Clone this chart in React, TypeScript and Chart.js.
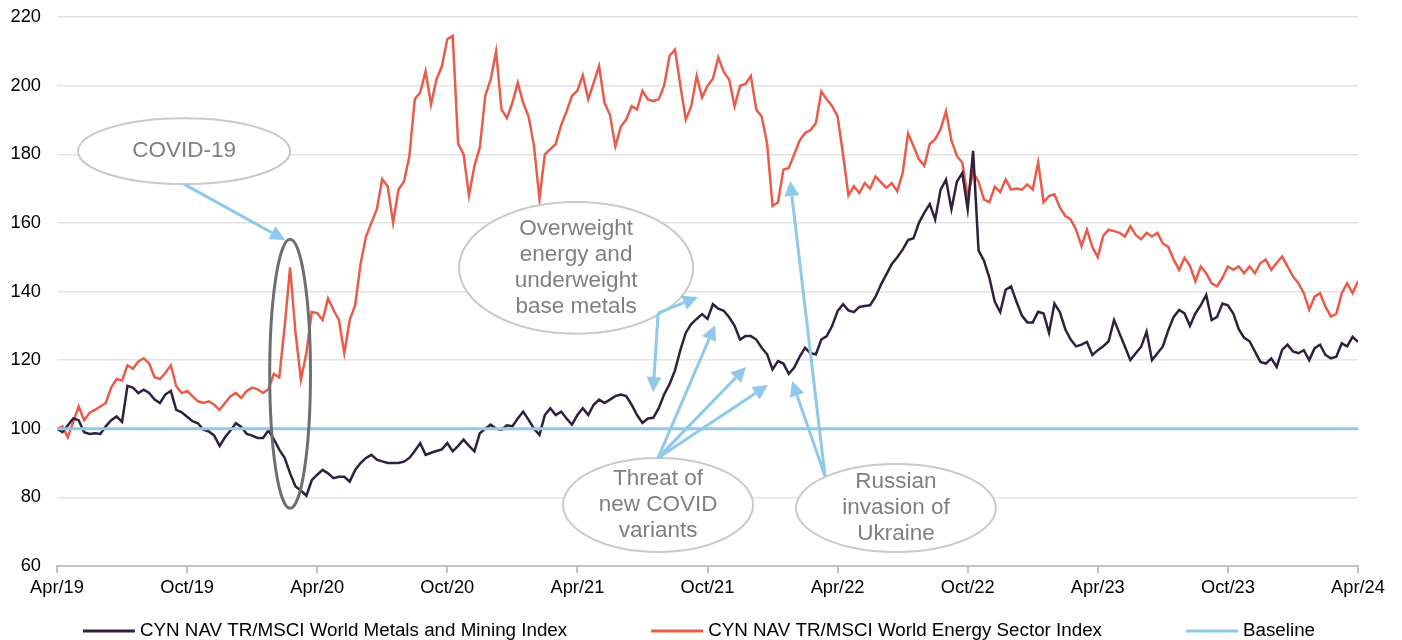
import React, { useEffect, useRef } from "react";
import { Chart, registerables } from "chart.js";

Chart.register(...registerables);

// Sampling step of the series, in months from Apr/19
const STEP_MONTHS = 0.25;

const TICK_LABELS = [
  "Apr/19", "Oct/19", "Apr/20", "Oct/20", "Apr/21", "Oct/21",
  "Apr/22", "Oct/22", "Apr/23", "Oct/23", "Apr/24",
];

const SERIES_NAMES = [
  "CYN NAV TR/MSCI World Metals and Mining Index",
  "CYN NAV TR/MSCI World Energy Sector Index",
  "Baseline",
];

const METALS = [
  100, 99, 101, 103, 102.5, 99, 98.5, 98.7,
  98.5, 100.7, 102.5, 103.6, 102, 112.5, 112, 110.4,
  111.4, 110.4, 108.5, 107.5, 110, 111, 105.5, 104.8,
  103.5, 102.2, 101.6, 99.7, 99.2, 98, 95, 97.5,
  99.5, 101.6, 100.5, 98.5, 98, 97.3, 97.3, 99.5,
  97, 93.9, 91.5, 87, 83.2, 82, 80.5, 85,
  86.6, 88, 87, 85.6, 86, 86, 84.6, 88,
  90, 91.5, 92.4, 91, 90.5, 90, 90, 90,
  90.4, 91.5, 93.5, 95.8, 92.4, 93, 93.5, 94,
  95.8, 93.4, 95, 96.8, 95, 93.4, 98.7, 100,
  101.2, 100, 99.7, 101, 100.7, 103, 105, 102.6,
  100, 98.2, 104, 106, 104, 105, 103, 101.2,
  104, 106, 104, 107, 108.5, 107.5, 108.5, 109.5,
  110, 109.5, 107, 104, 101.7, 103, 103.2, 106,
  110, 113, 117, 123, 128, 130.5, 132, 133.4,
  132, 136.3, 135, 134.4, 132.5, 130, 126, 127,
  127, 126, 123.6, 121.7, 117.3, 119.7, 119, 116,
  117.8, 121, 123.6, 122, 121.7, 126, 127, 130,
  134.3, 136.3, 134.5, 134, 135.5, 135.8, 136, 138.5,
  142, 145, 148, 150, 152.2, 155, 155.5, 160,
  163, 165.5, 161, 169.7, 172.6, 164, 172, 174.5,
  164, 181, 152, 149, 144, 137, 134, 140.5,
  141.5, 137, 133, 131, 131, 134.1, 133.6, 128,
  136.5, 134, 129, 126, 124, 124.5, 125.3, 121.5,
  122.9, 124, 125.5, 131.7, 127.8, 124, 120, 122,
  123.9, 128.3, 120, 122, 124, 128.7, 132.6, 134.6,
  133.6, 130, 133.6, 136, 139, 131.7, 132.6, 136.5,
  136, 133.6, 129, 126.5, 125.5, 122.5, 119.5, 119,
  120.5, 118, 123, 124.5, 122.5, 122, 122.9, 120,
  123.5, 124.5, 121.5, 120.5, 121, 124.9, 124, 126.8,
  125.3,
];

const ENERGY = [
  100, 100.7, 97.5, 102, 106.5, 102.5, 104.6, 105.5,
  106.5, 107.5, 112, 114.5, 114, 118.5, 117.5, 119.6,
  120.5, 119, 115, 114.5, 116.3, 118.5, 112.4, 110.4,
  111, 109.5, 108, 107.5, 108, 107, 105.5, 107.5,
  109.5, 110.4, 109, 111, 112, 111.5, 110.4, 111.5,
  116, 115, 129.8, 147, 128, 114.3, 122, 134,
  133.7, 131.7, 138, 134.6, 131.7, 122, 131.7, 136,
  148, 156, 160, 164, 172.7, 170.7, 160, 169.7,
  172, 179.4, 196, 198, 204.2, 194.5, 201.8, 205.7,
  213.5, 214.5, 183, 180, 168, 176.6, 182, 197,
  201.8, 210, 193, 190.5, 195, 200.8, 195, 191,
  182.3, 167, 180, 181.5, 183, 188.5, 192.5, 197,
  198.5, 203, 196, 200.8, 205.7, 195, 191.5, 182.3,
  188, 190.1, 194, 193, 198.5, 196, 195.5, 196,
  200, 208.7, 210.5, 200, 190.1, 194, 202.8, 196.5,
  199.9, 202, 208.2, 204, 201.8, 194, 199.9, 200.5,
  202.8, 193, 191, 183, 164.9, 166, 175.5, 176,
  180, 184, 186.2, 187, 189.1, 198.3, 196, 194,
  191, 180, 168, 170.7, 168.7, 171.6, 170, 173.5,
  171.8, 170.2, 171.6, 169.2, 174.6, 186, 182.4, 178.5,
  176.6, 183, 184.4, 187.3, 192.5, 184, 179.5, 177.6,
  167.8, 174.7, 172, 166.8, 166, 170.5, 169, 172.7,
  169.7, 170, 169.7, 171.2, 169.7, 177.6, 166, 167.8,
  168.3, 164.5, 162, 161, 158, 153.2, 158, 153,
  150, 156.2, 158, 157.6, 157.1, 156, 159, 156.5,
  155.2, 157.1, 156, 157.1, 154, 153, 149.3, 146.3,
  149.8, 147.5, 143, 147.3, 145.3, 142.4, 141.5, 144,
  147.3, 146.3, 147.3, 145.3, 147.3, 145.3, 148.3, 149.3,
  146.3, 148.3, 150.2, 147.3, 144.4, 142.4, 139.5, 134.7,
  138.5, 139.5, 135.6, 132.7, 133.5, 139.5, 142.4, 139.5,
  143,
];

const BASELINE = [100, 100];

// Annotations, in data units (months from Apr/19, index value)
const NOTE_ELLIPSES = [
  { m: 5.86, v: 180.9, rm: 4.89, rv: 9.6, lines: ["COVID-19"], filled: true },
  { m: 10.75, v: 116.0, rm: 0.94, rv: 39.2, lines: [], filled: false },
  { m: 23.94, v: 146.9, rm: 5.4, rv: 19.2, lines: ["Overweight", "energy and", "underweight", "base metals"], filled: true },
  { m: 27.72, v: 77.8, rm: 4.38, rv: 13.7, lines: ["Threat of", "new COVID", "variants"], filled: true },
  { m: 38.69, v: 76.9, rm: 4.61, rv: 12.8, lines: ["Russian", "invasion of", "Ukraine"], filled: true },
];

const NOTE_ARROWS = [
  { from: [5.86, 171.3], to: [10.52, 155.0] },
  { from: [27.72, 133.7], to: [29.56, 138.4] },
  { from: [27.72, 133.7], to: [27.49, 110.7] },
  { from: [27.72, 91.5], to: [30.35, 130.2] },
  { from: [27.72, 91.5], to: [31.78, 118.0] },
  { from: [27.72, 91.5], to: [32.79, 112.75] },
  { from: [35.42, 86.2], to: [33.9, 113.9] },
  { from: [35.42, 86.2], to: [33.81, 172.2] },
];

const COLORS = {
  metals: "#30203f",
  energy: "#e95c4b",
  baseline: "#8ec8ea",
  note: "#7f7f7f",
  noteBorder: "#c9c9c9",
  ring: "#6e6e6e",
  grid: "#e3e3e3",
  axis: "#c4c4c4",
};

const FONT = "'Liberation Sans', Arial, sans-serif";

const notesPlugin = {
  id: "notes",
  afterDatasetsDraw(chart: any) {
    const { ctx } = chart;
    const xs = chart.scales.x;
    const ys = chart.scales.y;
    const px = (m: number) => xs.getPixelForValue(m);
    const py = (v: number) => ys.getPixelForValue(v);
    ctx.save();
    for (const e of NOTE_ELLIPSES) {
      const cx = px(e.m);
      const cy = py(e.v);
      const rx = Math.abs(px(e.m + e.rm) - cx);
      const ry = Math.abs(py(e.v + e.rv) - cy);
      ctx.beginPath();
      ctx.ellipse(cx, cy, rx, ry, 0, 0, Math.PI * 2);
      if (e.filled) {
        ctx.fillStyle = "#ffffff";
        ctx.fill();
        ctx.lineWidth = 2;
        ctx.strokeStyle = COLORS.noteBorder;
      } else {
        ctx.lineWidth = 3;
        ctx.strokeStyle = COLORS.ring;
      }
      ctx.stroke();
      if (e.lines.length) {
        ctx.fillStyle = COLORS.note;
        ctx.font = `22.5px ${FONT}`;
        ctx.textAlign = "center";
        ctx.textBaseline = "middle";
        const lh = 26;
        const start = cy - ((e.lines.length - 1) * lh) / 2;
        e.lines.forEach((t, i) => ctx.fillText(t, cx, start + i * lh));
      }
    }
    ctx.strokeStyle = COLORS.baseline;
    ctx.fillStyle = COLORS.baseline;
    ctx.lineWidth = 3;
    for (const a of NOTE_ARROWS) {
      const x1 = px(a.from[0]);
      const y1 = py(a.from[1]);
      const x2 = px(a.to[0]);
      const y2 = py(a.to[1]);
      const ang = Math.atan2(y2 - y1, x2 - x1);
      const hl = 15;
      const hw = 7.5;
      const bx = x2 - hl * Math.cos(ang);
      const by = y2 - hl * Math.sin(ang);
      ctx.beginPath();
      ctx.moveTo(x1, y1);
      ctx.lineTo(bx, by);
      ctx.stroke();
      ctx.beginPath();
      ctx.moveTo(x2, y2);
      ctx.lineTo(bx + hw * Math.sin(ang), by - hw * Math.cos(ang));
      ctx.lineTo(bx - hw * Math.sin(ang), by + hw * Math.cos(ang));
      ctx.closePath();
      ctx.fill();
    }
    ctx.restore();
  },
  afterDraw(chart: any) {
    const { ctx } = chart;
    ctx.save();
    ctx.font = `18.8px ${FONT}`;
    ctx.textBaseline = "middle";
    ctx.textAlign = "left";
    const sample = 52;
    const gap = 5;
    const spacing = 84;
    const colors = [COLORS.metals, COLORS.energy, COLORS.baseline];
    const widths = SERIES_NAMES.map((n) => sample + gap + ctx.measureText(n).width);
    const total = widths.reduce((s, w) => s + w, 0) + spacing * (widths.length - 1);
    let x = chart.width / 2 - total / 2 - 2;
    const y = 631;
    SERIES_NAMES.forEach((n, i) => {
      ctx.strokeStyle = colors[i];
      ctx.lineWidth = 3;
      ctx.beginPath();
      ctx.moveTo(x, y);
      ctx.lineTo(x + sample, y);
      ctx.stroke();
      ctx.fillStyle = "#000000";
      ctx.fillText(n, x + sample + gap, y);
      x += widths[i] + spacing;
    });
    ctx.restore();
  },
};

export default function App() {
  const ref = useRef<HTMLCanvasElement | null>(null);

  useEffect(() => {
    document.body.style.margin = "0";
    const canvas = ref.current;
    if (!canvas) return;
    const toPoints = (arr: number[]) => arr.map((v, i) => ({ x: i * STEP_MONTHS, y: v }));
    const lastMonth = (METALS.length - 1) * STEP_MONTHS;
    const chart = new Chart(canvas, {
      type: "line",
      data: {
        datasets: [
          {
            label: SERIES_NAMES[2],
            data: [
              { x: 0, y: BASELINE[0] },
              { x: lastMonth, y: BASELINE[1] },
            ],
            borderColor: COLORS.baseline,
            borderWidth: 3,
            pointRadius: 0,
            order: 0,
          },
          {
            label: SERIES_NAMES[0],
            data: toPoints(METALS),
            borderColor: COLORS.metals,
            borderWidth: 2.5,
            pointRadius: 0,
            tension: 0,
            order: 1,
          },
          {
            label: SERIES_NAMES[1],
            data: toPoints(ENERGY),
            borderColor: COLORS.energy,
            borderWidth: 2.5,
            pointRadius: 0,
            tension: 0,
            order: 2,
          },
        ],
      },
      options: {
        responsive: false,
        animation: false,
        layout: { padding: { left: 0, right: 44, top: 17, bottom: 0 } },
        plugins: { legend: { display: false }, tooltip: { enabled: false } },
        scales: {
          x: {
            type: "linear",
            min: 0,
            max: lastMonth,
            afterFit: (s: any) => {
              s.height = 74;
              s.paddingLeft = 0;
              s.paddingRight = 0;
            },
            ticks: {
              stepSize: 6,
              autoSkip: false,
              maxRotation: 0,
              padding: 4,
              color: "#000000",
              font: { family: FONT, size: 18.3 },
              callback: (v: any) => TICK_LABELS[Math.round(Number(v) / 6)] ?? "",
            },
            grid: {
              drawOnChartArea: false,
              drawTicks: true,
              tickLength: 7,
              color: COLORS.axis,
              lineWidth: 2,
            },
            border: { display: true, color: COLORS.axis, width: 2 },
          },
          y: {
            min: 60,
            max: 220,
            afterFit: (s: any) => {
              s.width = 57;
              s.paddingTop = 0;
              s.paddingBottom = 0;
            },
            ticks: {
              stepSize: 20,
              padding: 16,
              color: "#000000",
              font: { family: FONT, size: 18.3 },
            },
            grid: { drawTicks: false, color: COLORS.grid, lineWidth: 1.5 },
            border: { display: false },
          },
        },
      },
      plugins: [notesPlugin],
    });
    return () => chart.destroy();
  }, []);

  return (
    <canvas
      ref={ref}
      width={1402}
      height={640}
      style={{ display: "block", width: 1402, height: 640 }}
    />
  );
}
